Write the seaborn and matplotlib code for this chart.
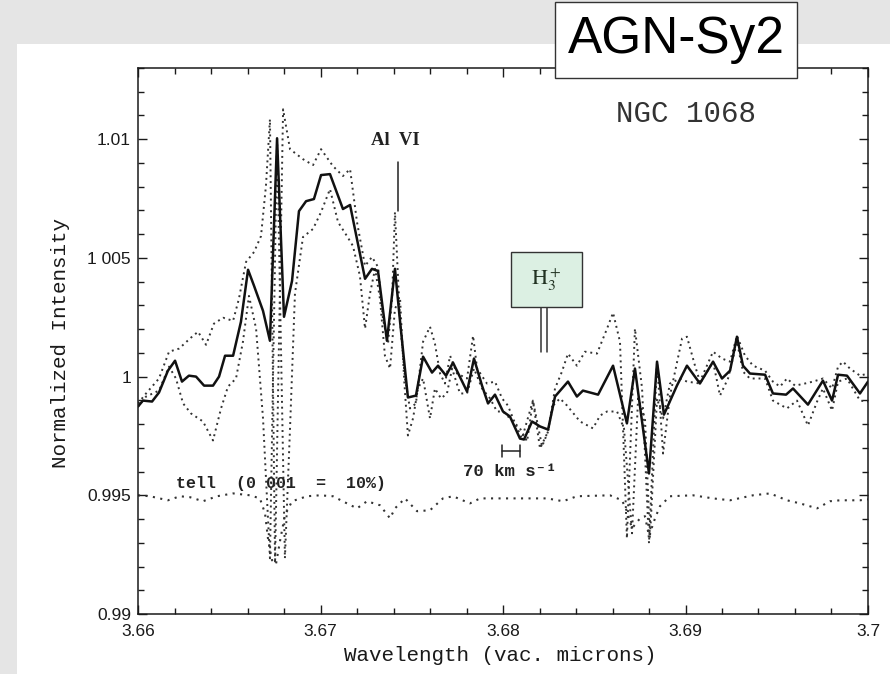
import matplotlib
matplotlib.use("Agg")
import matplotlib.pyplot as plt
from matplotlib.patches import Rectangle
from matplotlib.ticker import FixedLocator, FixedFormatter, MultipleLocator
import seaborn as sns

# ---- NGC 1068 spectrum (wavelength in vacuum microns, normalized intensity) ----
main_wl = [3.66000, 3.66027, 3.66077, 3.66115, 3.66164, 3.66203, 3.66241, 3.66279, 3.66318, 3.66362,
           3.66411, 3.66444, 3.66477, 3.66521, 3.66564, 3.66603, 3.66636, 3.66685, 3.66723, 3.66762,
           3.66800, 3.66844, 3.66882, 3.66921, 3.66964, 3.67003, 3.67052, 3.67123, 3.67162, 3.67244,
           3.67282, 3.67315, 3.67364, 3.67408, 3.67436, 3.67479, 3.67523, 3.67562, 3.67611, 3.67644,
           3.67688, 3.67726, 3.67803, 3.67841, 3.67885, 3.67918, 3.67956, 3.68000, 3.68038, 3.68093,
           3.68115, 3.68159, 3.68203, 3.68247, 3.68285, 3.68356, 3.68405, 3.68438, 3.68521, 3.68603,
           3.68679, 3.68723, 3.68800, 3.68844, 3.68882, 3.68953, 3.69008, 3.69079, 3.69151, 3.69200,
           3.69244, 3.69282, 3.69315, 3.69353, 3.69436, 3.69479, 3.69551, 3.69589, 3.69671, 3.69753,
           3.69803, 3.69836, 3.69885, 3.69956, 3.70000]
main_flux = [0.99874, 0.99899, 0.99895, 0.99933, 1.00025, 1.00067, 0.99979, 1.00004, 1.00000, 0.99962,
             0.99962, 1.00000, 1.00088, 1.00088, 1.00231, 1.00450, 1.00382, 1.00277, 1.00151, 1.01004,
             1.00252, 1.00403, 1.00697, 1.00739, 1.00748, 1.00849, 1.00853, 1.00706, 1.00723, 1.00412,
             1.00454, 1.00445, 1.00151, 1.00454, 1.00231, 0.99912, 0.99920, 1.00084, 1.00017, 1.00046,
             1.00004, 1.00059, 0.99937, 1.00076, 0.99962, 0.99887, 0.99924, 0.99853, 0.99832, 0.99739,
             0.99735, 0.99811, 0.99790, 0.99777, 0.99916, 0.99979, 0.99916, 0.99941, 0.99924, 1.00046,
             0.99803, 1.00034, 0.99592, 1.00063, 0.99840, 0.99962, 1.00046, 0.99971, 1.00063, 0.99992,
             1.00025, 1.00168, 1.00046, 1.00013, 1.00008, 0.99929, 0.99924, 0.99950, 0.99882, 0.99983,
             0.99899, 1.00008, 1.00004, 0.99929, 0.99979]

# first individual spectrum (dotted)
spec1_wl = [3.66000, 3.66044, 3.66115, 3.66170, 3.66225, 3.66290, 3.66329, 3.66373, 3.66416, 3.66466,
            3.66521, 3.66553, 3.66592, 3.66636, 3.66674, 3.66701, 3.66723, 3.66751, 3.66795, 3.66833,
            3.66904, 3.66959, 3.67003, 3.67068, 3.67123, 3.67162, 3.67200, 3.67244, 3.67282, 3.67315,
            3.67342, 3.67370, 3.67392, 3.67408, 3.67436, 3.67463, 3.67490, 3.67523, 3.67562, 3.67600,
            3.67627, 3.67655, 3.67682, 3.67710, 3.67748, 3.67803, 3.67836, 3.67858, 3.67912, 3.67956,
            3.67995, 3.68027, 3.68066, 3.68104, 3.68164, 3.68203, 3.68247, 3.68285, 3.68323, 3.68356,
            3.68405, 3.68449, 3.68515, 3.68570, 3.68603, 3.68641, 3.68679, 3.68723, 3.68762, 3.68800,
            3.68844, 3.68877, 3.68915, 3.68981, 3.69008, 3.69052, 3.69079, 3.69151, 3.69200, 3.69244,
            3.69282, 3.69326, 3.69370, 3.69436, 3.69479, 3.69518, 3.69556, 3.69600, 3.69655, 3.69699,
            3.69753, 3.69803, 3.69836, 3.69863, 3.69901, 3.69956, 3.70000]
spec1_flux = [0.99887, 0.99929, 0.99992, 1.00105, 1.00118, 1.00164, 1.00189, 1.00134, 1.00223, 1.00248,
              1.00235, 1.00328, 1.00483, 1.00525, 1.00592, 1.00803, 1.01084, 0.99214, 1.01126, 1.00958,
              1.00916, 1.00891, 1.00958, 1.00887, 1.00845, 1.00874, 1.00651, 1.00466, 1.00504, 1.00462,
              1.00244, 1.00139, 1.00328, 1.00693, 1.00231, 0.99992, 0.99866, 0.99887, 1.00147, 1.00210,
              1.00139, 1.00013, 0.99971, 1.00088, 1.00013, 0.99992, 1.00172, 1.00034, 0.99971, 0.99979,
              0.99908, 0.99878, 0.99803, 0.99739, 0.99899, 0.99697, 0.99769, 0.99950, 1.00021, 1.00097,
              1.00046, 1.00105, 1.00097, 1.00202, 1.00269, 1.00147, 0.99319, 1.00202, 0.99950, 0.99298,
              1.00063, 0.99676, 0.99920, 1.00160, 1.00168, 1.00046, 0.99979, 1.00105, 1.00076, 1.00063,
              1.00172, 1.00088, 1.00046, 1.00025, 0.99979, 0.99958, 0.99992, 0.99962, 0.99971, 0.99979,
              0.99992, 0.99950, 1.00042, 1.00063, 1.00034, 1.00004, 1.00013]

# second individual spectrum (dotted)
spec2_wl = [3.66000, 3.66044, 3.66115, 3.66170, 3.66208, 3.66247, 3.66290, 3.66356, 3.66411, 3.66455,
            3.66493, 3.66537, 3.66575, 3.66608, 3.66647, 3.66685, 3.66723, 3.66762, 3.66805, 3.66833,
            3.66860, 3.66904, 3.66959, 3.67003, 3.67052, 3.67096, 3.67145, 3.67178, 3.67216, 3.67244,
            3.67271, 3.67299, 3.67326, 3.67353, 3.67381, 3.67408, 3.67436, 3.67458, 3.67479, 3.67507,
            3.67534, 3.67562, 3.67600, 3.67627, 3.67660, 3.67693, 3.67721, 3.67764, 3.67803, 3.67841,
            3.67885, 3.67929, 3.67967, 3.68000, 3.68038, 3.68093, 3.68132, 3.68164, 3.68214, 3.68247,
            3.68274, 3.68312, 3.68351, 3.68422, 3.68493, 3.68532, 3.68570, 3.68625, 3.68663, 3.68707,
            3.68740, 3.68778, 3.68805, 3.68844, 3.68877, 3.68915, 3.68970, 3.69008, 3.69079, 3.69151,
            3.69189, 3.69233, 3.69282, 3.69315, 3.69353, 3.69436, 3.69479, 3.69556, 3.69611, 3.69671,
            3.69721, 3.69753, 3.69803, 3.69836, 3.69885, 3.69956, 3.70000]
spec2_flux = [0.99874, 0.99916, 0.99941, 1.00042, 0.99992, 0.99887, 0.99845, 0.99811, 0.99731, 0.99866,
              0.99958, 0.99992, 1.00147, 1.00340, 1.00202, 0.99824, 0.99235, 1.01000, 0.99235, 0.99782,
              1.00349, 1.00588, 1.00622, 1.00693, 1.00790, 1.00651, 1.00592, 1.00550, 1.00424, 1.00202,
              1.00349, 1.00454, 1.00328, 1.00088, 1.00034, 1.00286, 1.00328, 0.99992, 0.99752, 0.99824,
              0.99950, 0.99992, 0.99824, 0.99950, 0.99908, 0.99929, 1.00034, 0.99929, 0.99929, 1.00034,
              0.99950, 0.99908, 0.99853, 0.99853, 0.99824, 0.99782, 0.99727, 0.99899, 0.99706, 0.99769,
              0.99878, 0.99908, 0.99878, 0.99811, 0.99782, 0.99836, 0.99853, 0.99853, 0.99782, 0.99340,
              0.99908, 0.99824, 0.99319, 0.99908, 0.99824, 0.99971, 0.99992, 0.99979, 0.99971, 1.00063,
              0.99920, 0.99992, 1.00147, 1.00021, 0.99992, 0.99992, 0.99899, 0.99866, 0.99899, 0.99794,
              0.99895, 0.99950, 0.99857, 0.99979, 0.99992, 0.99899, 0.99895]

# telluric transmission, offset to 0.995 and scaled (0.001 = 10%)
tell_wl = [3.66000, 3.66066, 3.66164, 3.66230, 3.66285, 3.66356, 3.66433, 3.66521, 3.66614, 3.66668,
           3.66696, 3.66712, 3.66734, 3.66756, 3.66778, 3.66805, 3.66844, 3.66926, 3.66997, 3.67068,
           3.67145, 3.67200, 3.67255, 3.67326, 3.67381, 3.67408, 3.67463, 3.67529, 3.67600, 3.67671,
           3.67726, 3.67819, 3.67874, 3.68022, 3.68110, 3.68241, 3.68329, 3.68405, 3.68586, 3.68652,
           3.68679, 3.68707, 3.68751, 3.68778, 3.68800, 3.68833, 3.68860, 3.68915, 3.69041, 3.69151,
           3.69244, 3.69370, 3.69463, 3.69556, 3.69627, 3.69721, 3.69792, 3.69847, 3.69956, 3.70000]
tell_flux = [0.99500, 0.99496, 0.99479, 0.99496, 0.99492, 0.99475, 0.99496, 0.99508, 0.99500, 0.99487,
             0.99424, 0.99319, 0.99227, 0.99210, 0.99307, 0.99416, 0.99475, 0.99496, 0.99500, 0.99496,
             0.99466, 0.99445, 0.99475, 0.99458, 0.99403, 0.99445, 0.99487, 0.99433, 0.99437, 0.99487,
             0.99496, 0.99466, 0.99487, 0.99487, 0.99487, 0.99487, 0.99475, 0.99496, 0.99500, 0.99479,
             0.99433, 0.99361, 0.99403, 0.99412, 0.99328, 0.99403, 0.99454, 0.99496, 0.99500, 0.99487,
             0.99479, 0.99500, 0.99508, 0.99479, 0.99466, 0.99445, 0.99475, 0.99479, 0.99479, 0.99483]

# axis ticks
x_ticks = [3.66, 3.67, 3.68, 3.69, 3.70]
x_tick_labels = ["3.66", "3.67", "3.68", "3.69", "3.7"]
y_ticks = [0.990, 0.995, 1.000, 1.005, 1.010]
y_tick_labels = ["0.99", "0.995", "1", "1 005", "1.01"]

# line identifications
al6_wl = 3.67425
h3p_wl = [3.68208, 3.68241]

sns.set_style("ticks")
plt.rcParams["font.family"] = ["Liberation Sans", "DejaVu Sans"]
plt.rcParams["mathtext.fontset"] = "stix"

MONO = ["Liberation Mono", "DejaVu Sans Mono"]
INK = "#1a1a1a"

fig = plt.figure(figsize=(8.9, 6.74), dpi=100, facecolor="#e5e5e5")
# white slide panel
fig.add_artist(Rectangle((0.0191, 0.0), 0.9809, 0.9347, transform=fig.transFigure,
                         facecolor="white", edgecolor="none", zorder=-10))

ax = fig.add_axes([0.15506, 0.08902, 0.82022, 0.81009])
ax.set_facecolor("white")

dot = (0, (1, 2))
sns.lineplot(x=tell_wl, y=tell_flux, ax=ax, color="#333333", linewidth=1.5,
             linestyle=(0, (1, 2.6)), estimator=None, sort=False)
sns.lineplot(x=spec1_wl, y=spec1_flux, ax=ax, color="#333333", linewidth=1.4,
             linestyle=dot, estimator=None, sort=False)
sns.lineplot(x=spec2_wl, y=spec2_flux, ax=ax, color="#333333", linewidth=1.4,
             linestyle=dot, estimator=None, sort=False)
sns.lineplot(x=main_wl, y=main_flux, ax=ax, color="#111111", linewidth=1.8,
             estimator=None, sort=False)

ax.set_xlim(3.66, 3.70)
ax.set_ylim(0.99, 1.013)

ax.xaxis.set_major_locator(FixedLocator(x_ticks))
ax.xaxis.set_major_formatter(FixedFormatter(x_tick_labels))
ax.xaxis.set_minor_locator(MultipleLocator(0.002))
ax.yaxis.set_major_locator(FixedLocator(y_ticks))
ax.yaxis.set_major_formatter(FixedFormatter(y_tick_labels))
ax.yaxis.set_minor_locator(MultipleLocator(0.001))

ax.tick_params(which="both", direction="in", top=True, right=True, color=INK, width=1.0)
ax.tick_params(which="major", length=6.5)
ax.tick_params(which="minor", length=4)
ax.tick_params(axis="x", which="major", pad=7, labelsize=12.5, labelcolor=INK)
ax.tick_params(axis="y", which="major", pad=5, labelsize=12.5, labelcolor=INK)
for sp in ax.spines.values():
    sp.set_visible(True)
    sp.set_linewidth(1.1)
    sp.set_color(INK)

ax.set_xlabel("Wavelength (vac. microns)", family=MONO, fontsize=15, color=INK)
ax.set_ylabel("Normalized Intensity", family=MONO, fontsize=15, color=INK)
ax.xaxis.set_label_coords(0.4959, -0.0751)
ax.yaxis.set_label_coords(-0.1068, 0.4963)
ax.xaxis.label.set_va("center")
ax.yaxis.label.set_va("center")

# object name
ax.text(3.69003, 1.01105, "NGC 1068", family=MONO, fontsize=21, color="#333333",
        ha="center", va="center")

# Al VI identification
ax.text(3.67413, 1.00996, "Al  VI", family=["Liberation Serif", "DejaVu Serif"],
        fontsize=13.5, fontweight="bold", color="#222222", ha="center", va="center")
ax.plot([al6_wl, al6_wl], [1.00903, 1.00697], color="#222222", lw=1.1)

# H3+ identification with labelled box
ax.add_patch(Rectangle((3.68044, 1.00294), 0.00389, 0.00231, facecolor="#dcf0e3",
                       edgecolor="#333333", lw=1.0, zorder=4))
ax.text(3.68238, 1.00408, r"$\mathrm{H}_3^+$", fontsize=16, color="#223322",
        ha="center", va="center", zorder=5)
for w in h3p_wl:
    ax.plot([w, w], [1.00294, 1.00105], color="#333333", lw=1.1)

# telluric label
ax.text(3.66208, 0.99550, "tell  (0 001  =  10%)", family=MONO, fontsize=12,
        fontweight="bold", color="#222222", ha="left", va="center")

# velocity resolution bar
bar_x0, bar_x1, bar_y, cap = 3.67995, 3.68093, 0.99685, 0.00025
ax.plot([bar_x0, bar_x1], [bar_y, bar_y], color="#222222", lw=1.1)
ax.plot([bar_x0, bar_x0], [bar_y - cap, bar_y + cap], color="#222222", lw=1.1)
ax.plot([bar_x1, bar_x1], [bar_y - cap, bar_y + cap], color="#222222", lw=1.1)
ax.text(3.68038, 0.99601, "70 km s\u207b\u00b9", family=MONO, fontsize=12.5,
        fontweight="bold", color="#222222", ha="center", va="center")

# class label box on the slide
fig.add_artist(Rectangle((0.6236, 0.8843), 0.2719, 0.1128, transform=fig.transFigure,
                         facecolor="white", edgecolor="#333333", lw=1.0, zorder=5))
fig.text(0.7596, 0.9407, "AGN-Sy2", fontsize=37, color="black",
         ha="center", va="center", zorder=6)

fig.savefig("out.png", dpi=100, facecolor=fig.get_facecolor())
